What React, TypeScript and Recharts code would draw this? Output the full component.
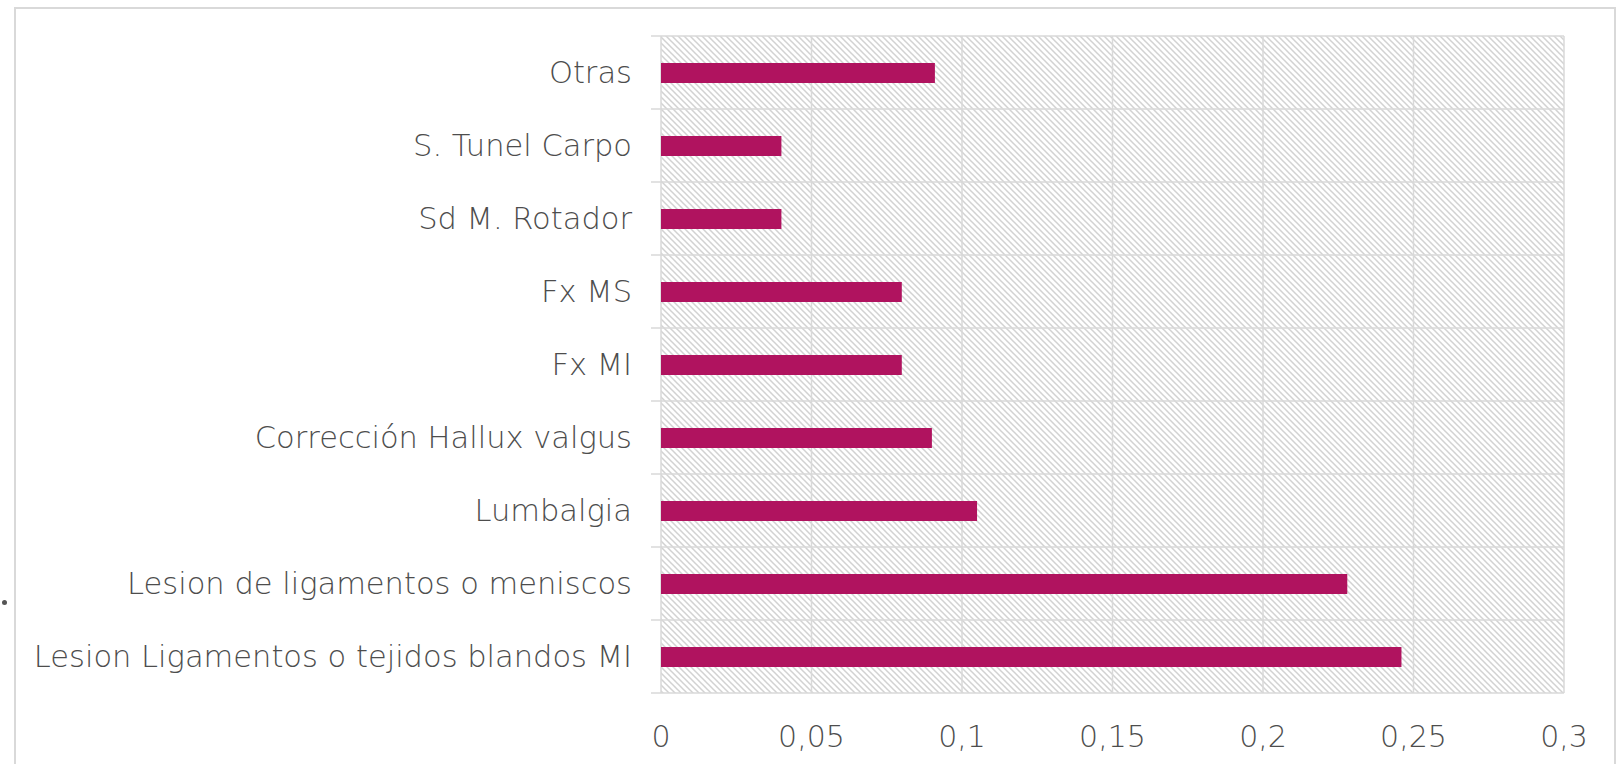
import { BarChart, Bar, XAxis, YAxis, CartesianGrid } from 'recharts'

const categories = [
  'Otras',
  'S. Tunel Carpo',
  'Sd M. Rotador',
  'Fx MS',
  'Fx MI',
  'Corrección Hallux valgus',
  'Lumbalgia',
  'Lesion de ligamentos o meniscos',
  'Lesion Ligamentos o tejidos blandos MI',
]
const values = [0.091, 0.04, 0.04, 0.08, 0.08, 0.09, 0.105, 0.228, 0.246]
const xTicks = [0, 0.05, 0.1, 0.15, 0.2, 0.25, 0.3]

const data = categories.map((name, i) => ({ name, value: values[i] }))

const FONT = '"DejaVu Sans", sans-serif'
const TEXT = '#4d4d4d'
const GRID = '#d9d9d9'

// horizontal grid lines sit on the row boundaries and stick out a bit to the left
const gridLine = (props: any) => {
  const { x1, y1, x2, y2, key } = props
  return <line key={key} x1={x1 - 10} y1={y1} x2={x2} y2={y2} stroke={GRID} strokeWidth={1.5} />
}

const rowBoundaries = ({ offset }: any) =>
  Array.from({ length: categories.length + 1 }, (_, i) => offset.top + (offset.height * i) / categories.length)

export default function App() {
  return (
    <div style={{ position: 'absolute', left: 0, top: 0, width: 1624, height: 764, background: '#fff', overflow: 'hidden' }}>
      <div
        style={{
          position: 'absolute',
          left: 14,
          top: 7,
          width: 1602,
          height: 800,
          borderLeft: `2px solid ${GRID}`,
          borderTop: `2px solid ${GRID}`,
          borderRight: `2px solid ${GRID}`,
          boxSizing: 'border-box',
        }}
      />
      <div style={{ position: 'absolute', left: 2, top: 600, width: 5, height: 5, borderRadius: 3, background: '#555' }} />
      <BarChart
        width={1624}
        height={764}
        data={data}
        layout="vertical"
        margin={{ top: 36, right: 60, bottom: 41, left: 0 }}
        style={{ position: 'absolute', left: 0, top: 0 }}
      >
        <defs>
          <pattern id="hatch" patternUnits="userSpaceOnUse" width={6} height={6}>
            <rect width={6} height={6} fill="#ffffff" />
            <path d="M-1,-1 L7,7 M-4,2 L4,10 M2,-4 L10,4" stroke="#d2d2d2" strokeWidth={1.5} />
          </pattern>
        </defs>
        <CartesianGrid
          fill="url(#hatch)"
          fillOpacity={1}
          stroke={GRID}
          strokeWidth={1.5}
          horizontal={gridLine}
          horizontalCoordinatesGenerator={rowBoundaries}
        />
        <XAxis
          type="number"
          domain={[0, 0.3]}
          ticks={xTicks}
          height={30}
          axisLine={false}
          tickLine={false}
          tickSize={0}
          tickMargin={33}
          interval={0}
          tickFormatter={(v: number) => String(v).replace('.', ',')}
          tick={{ fill: TEXT, fontSize: 30, fontFamily: FONT, fontWeight: 200 }}
        />
        <YAxis
          type="category"
          dataKey="name"
          width={661}
          axisLine={false}
          tickLine={false}
          tickSize={0}
          tickMargin={29}
          interval={0}
          tick={{ fill: TEXT, fontSize: 30.5, fontFamily: FONT, fontWeight: 200 }}
        />
        <Bar dataKey="value" fill="#b0135f" barSize={20} isAnimationActive={false} />
      </BarChart>
    </div>
  )
}
